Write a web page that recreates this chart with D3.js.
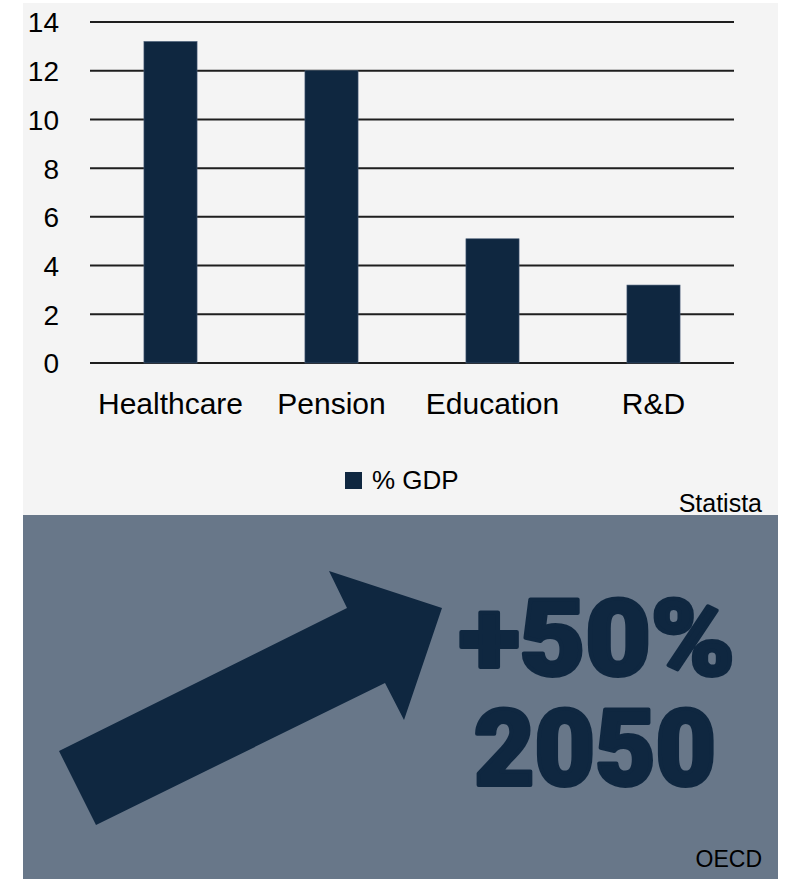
<html>
  <head>
    <title>gdp</title>
    <script src="https://d3js.org/d3.v7.min.js"></script>
    <style>
      body { margin: 0; background: #ffffff; }
      text { font-family: "Liberation Sans", Arial, sans-serif; }
    </style>
  </head>
  <body>
    <div id='wrapper'></div>
    <script>
      // chart data
      var categories = ["Healthcare", "Pension", "Education", "R&D"];
      var gdpShare = [13.2, 12.0, 5.1, 3.2];
      var yTicks = [0, 2, 4, 6, 8, 10, 12, 14];
      var seriesName = "% GDP";
      var chartSource = "Statista";
      var bigLines = ["+50%", "2050"];
      var bannerSource = "OECD";

      var dark = "#0f2740";

      var svg = d3.select("#wrapper").append("svg")
        .attr("width", 785)
        .attr("height", 879);

      // top panel
      svg.append("rect")
        .attr("x", 23).attr("y", 3)
        .attr("width", 755).attr("height", 512)
        .attr("fill", "#f4f4f4");

      var xScale = d3.scaleBand().domain(categories).range([90, 734]).paddingInner(0.67).paddingOuter(0.335);
      var yScale = d3.scaleLinear().domain([0, 14]).range([363, 22]);

      // gridlines
      svg.append("g").selectAll("line")
        .data(yTicks)
        .enter().append("line")
        .attr("x1", 90).attr("x2", 734)
        .attr("y1", function(d) { return yScale(d); })
        .attr("y2", function(d) { return yScale(d); })
        .attr("stroke", "#1e1e1e")
        .attr("stroke-width", 2);

      var yAxis = d3.axisLeft(yScale).tickValues(yTicks).tickSize(0).tickPadding(0);
      var gy = svg.append("g")
        .attr("transform", "translate(59,1)")
        .call(yAxis);
      gy.select(".domain").remove();
      gy.selectAll("text")
        .attr("font-size", 28)
        .attr("fill", "#000")
        .style("font-family", "'Liberation Sans', Arial, sans-serif");

      // bars
      svg.append("g").selectAll("rect")
        .data(gdpShare)
        .enter().append("rect")
        .attr("x", function(d, i) { return xScale(categories[i]); })
        .attr("y", function(d) { return yScale(d); })
        .attr("width", xScale.bandwidth())
        .attr("height", function(d) { return yScale(0) - yScale(d); })
        .attr("fill", dark)
        .attr("stroke", "#4a5f78")
        .attr("stroke-width", 0.6);

      var xAxis = d3.axisBottom(xScale).tickSize(0).tickPadding(0);
      var gx = svg.append("g")
        .attr("transform", "translate(0,414)")
        .call(xAxis);
      gx.select(".domain").remove();
      gx.selectAll("text")
        .attr("font-size", 30)
        .attr("fill", "#000")
        .attr("dy", 0)
        .style("font-family", "'Liberation Sans', Arial, sans-serif");

      // legend
      svg.append("rect")
        .attr("x", 345).attr("y", 472)
        .attr("width", 17).attr("height", 17)
        .attr("fill", dark);
      svg.append("text")
        .attr("x", 372).attr("y", 489)
        .attr("font-size", 26)
        .text(seriesName);

      svg.append("text")
        .attr("x", 762).attr("y", 512)
        .attr("text-anchor", "end")
        .attr("font-size", 25)
        .text(chartSource);

      // bottom banner
      svg.append("rect")
        .attr("x", 23).attr("y", 515)
        .attr("width", 755).attr("height", 364)
        .attr("fill", "#687789");

      var arrowPts = [[59, 751], [96, 825], [385, 683], [404, 720], [442, 608], [329, 571], [347, 608]];
      svg.append("path")
        .attr("d", d3.line()(arrowPts) + "Z")
        .attr("fill", dark);

      // heavy headline text, stroked to get a black weight
      svg.selectAll("text.big")
        .data(bigLines)
        .enter().append("text")
        .attr("class", "big")
        .attr("x", function(d, i) { return i == 0 ? 597 : 595; })
        .attr("y", function(d, i) { return i == 0 ? 675 : 785; })
        .attr("text-anchor", "middle")
        .attr("font-size", 105)
        .attr("font-weight", 900)
        .attr("textLength", function(d, i) { return i == 0 ? 276 : 242; })
        .attr("lengthAdjust", "spacingAndGlyphs")
        .attr("fill", dark)
        .attr("stroke", dark)
        .attr("stroke-width", 4)
        .attr("stroke-linejoin", "round")
        .style("font-family", "Roboto, 'Liberation Sans', sans-serif")
        .text(function(d) { return d; });

      svg.append("text")
        .attr("x", 762).attr("y", 867)
        .attr("text-anchor", "end")
        .attr("font-size", 23)
        .text(bannerSource);
    </script>
  </body>
</html>
